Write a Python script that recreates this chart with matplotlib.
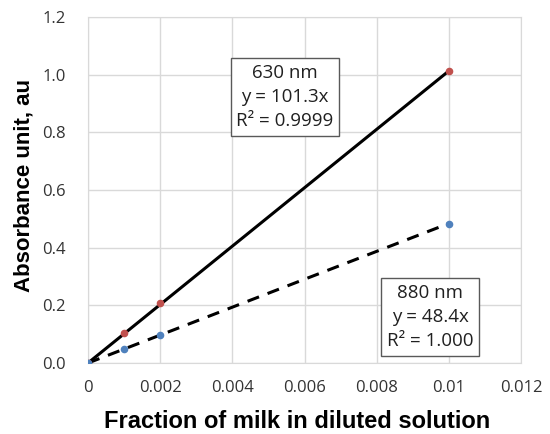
import matplotlib
matplotlib.use("Agg")
import matplotlib.pyplot as plt
import numpy as np

x_vals = [0, 0.001, 0.002, 0.01]
a630 = [0.0, 0.105, 0.208, 1.013]
a880 = [0.0, 0.050, 0.097, 0.483]
slope630 = 101.3
slope880 = 48.4
xticks = [0, 0.002, 0.004, 0.006, 0.008, 0.01, 0.012]
xtick_labels = ["0", "0.002", "0.004", "0.006", "0.008", "0.01", "0.012"]
yticks = [0.0, 0.2, 0.4, 0.6, 0.8, 1.0, 1.2]
ytick_labels = ["0.0", "0.2", "0.4", "0.6", "0.8", "1.0", "1.2"]

fig = plt.figure(figsize=(5.5, 4.34), dpi=100)
ax = fig.add_axes([88/550, 1-363/434, (521-88)/550, (363-17)/434])

xl = np.array([0, 0.01])
ax.plot(xl, slope630*xl, color="black", lw=2.2, zorder=3)
ax.plot(xl, slope880*xl, color="black", lw=2.2, ls=(0, (4, 3)), zorder=3)
ax.scatter(x_vals, a630, color="#C0504D", s=20, zorder=4)
ax.scatter(x_vals, a880, color="#4F81BD", s=20, zorder=4)

ax.set_xlim(0, 0.012)
ax.set_ylim(0, 1.2)
ax.set_xticks(xticks)
ax.set_xticklabels(xtick_labels)
ax.set_yticks(yticks)
ax.set_yticklabels(ytick_labels)
ax.grid(True, color="#D9D9D9", lw=1)
ax.set_axisbelow(True)
for s in ax.spines.values():
    s.set_color("#D9D9D9")
ax.tick_params(axis="x", length=0, labelsize=12, colors="#333333", pad=12)
ax.tick_params(axis="y", length=0, labelsize=12, colors="#333333", pad=16)
for lbl in ax.get_xticklabels() + ax.get_yticklabels():
    lbl.set_family("Open Sans")

fig.text(297/550, 1-422/434, "Fraction of milk in diluted solution", fontsize=17,
         fontweight="bold", family="Liberation Sans", ha="center", va="center")
fig.text(24/550, 1-186/434, "Absorbance unit, au", fontsize=16, rotation=90,
         fontweight="bold", family="Liberation Sans", ha="center", va="center")

box = dict(boxstyle="square,pad=0.3", fc="white", ec="#595959", lw=1)
fig.text(285/550, 1-97/434, "630 nm\ny = 101.3x\nR² = 0.9999", ha="center", va="center",
         fontsize=13.5, family="Open Sans", color="#202020", bbox=box, linespacing=1.45)
fig.text(430/550, 1-317/434, "880 nm\ny = 48.4x\nR² = 1.000", ha="center", va="center",
         fontsize=13.5, family="Open Sans", color="#202020", bbox=box, linespacing=1.45)

fig.savefig("out.png", dpi=100)
